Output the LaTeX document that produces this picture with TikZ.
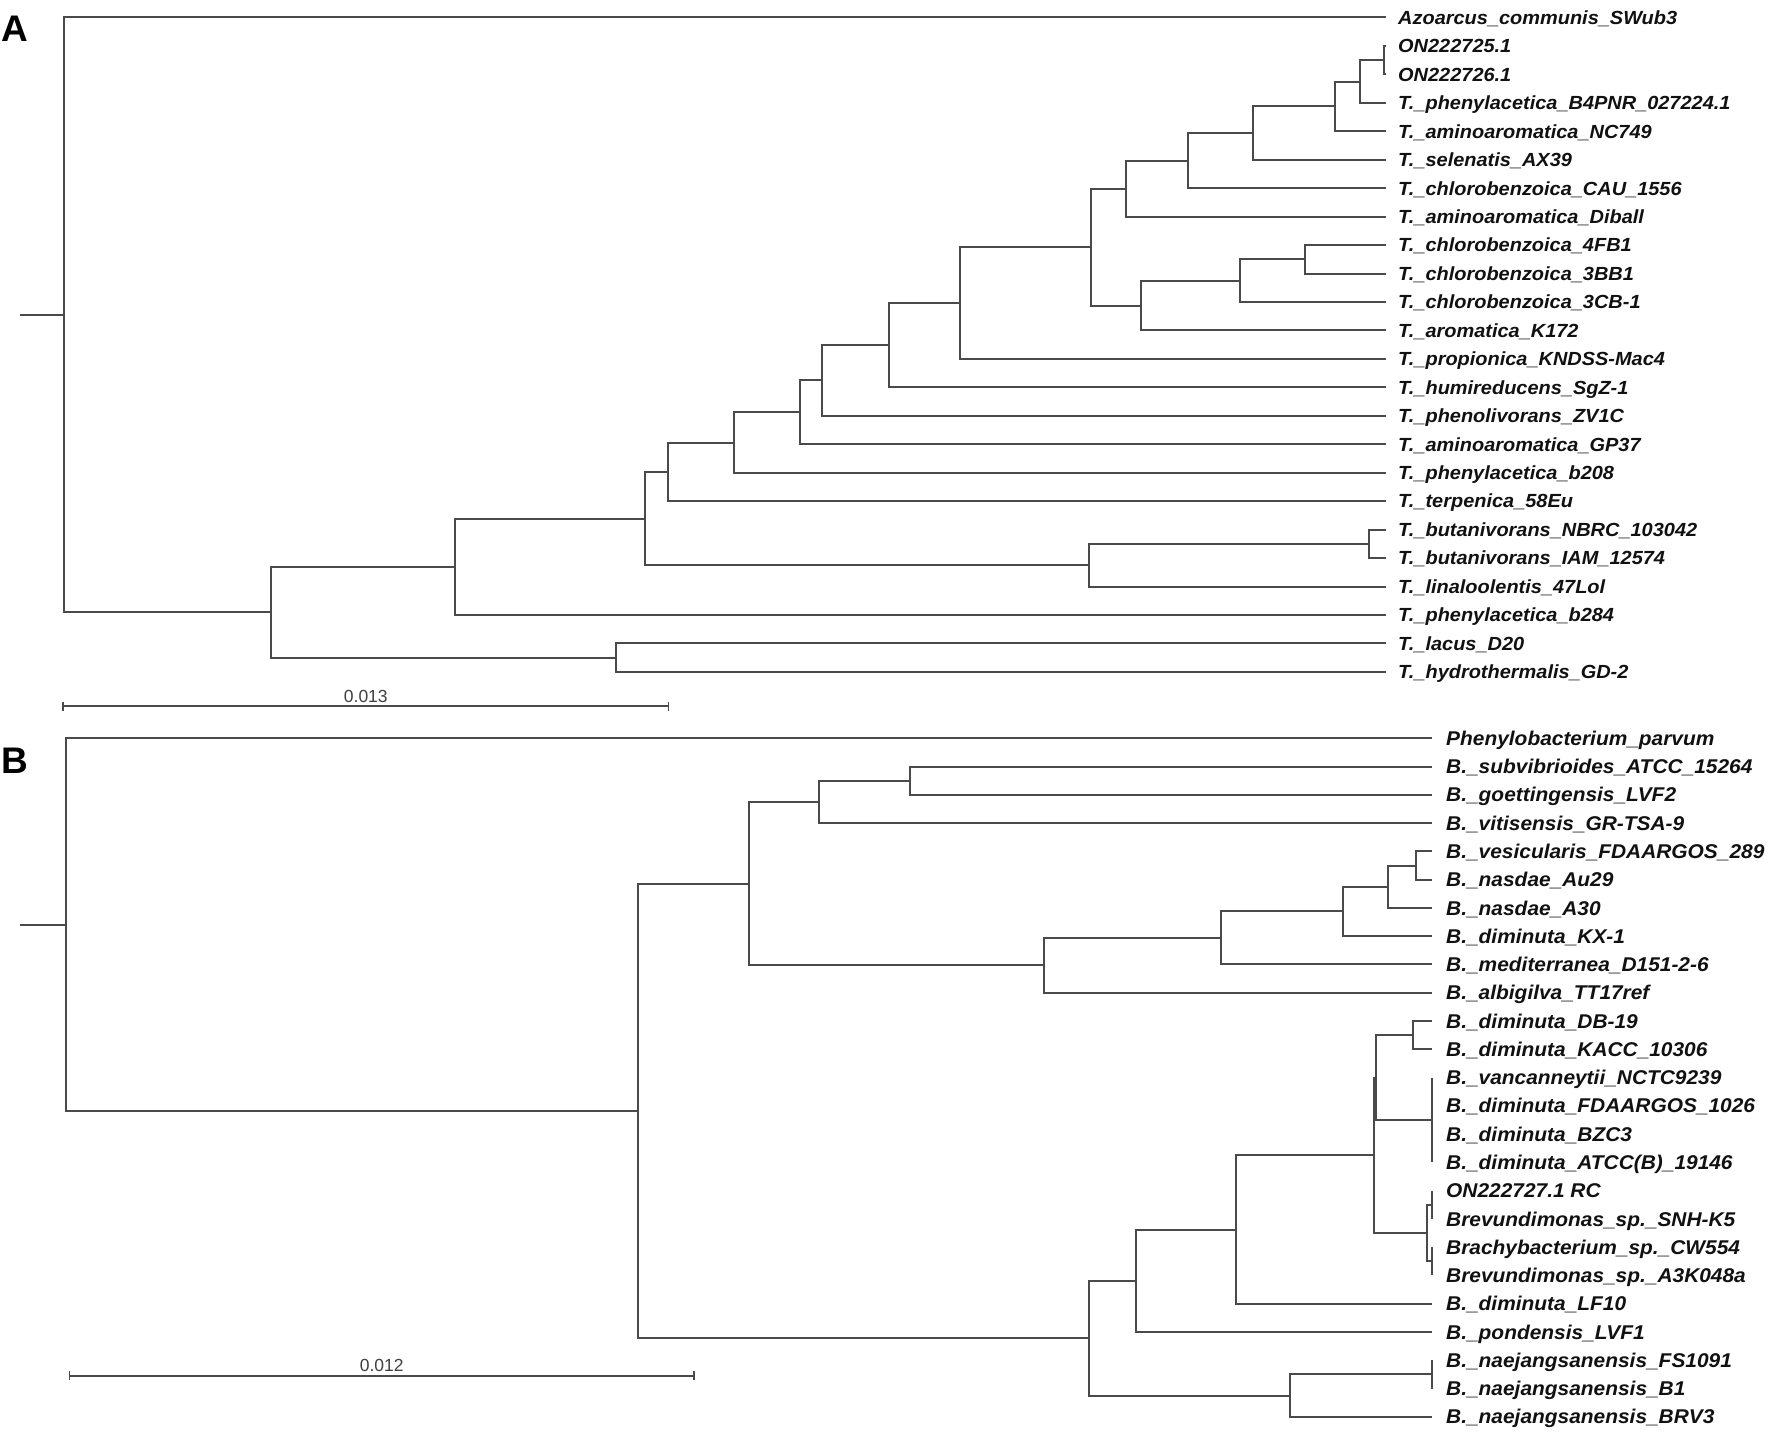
\documentclass[tikz,border=0pt]{standalone}
\usepackage{fontspec}
\setmainfont{Liberation Sans}
\newfontfamily\labfont[FakeStretch=1.05]{Liberation Sans}
\usetikzlibrary{calc}
\definecolor{lineC}{HTML}{4A4A4A}
\definecolor{txtC}{HTML}{111111}
\begin{document}
\begin{tikzpicture}[x=1pt,y=-1pt,
  br/.style={draw=lineC, line width=2pt},
  labA/.style={anchor=base west, inner sep=0pt, text=txtC, font=\labfont\bfseries\itshape\fontsize{19}{19}\selectfont},
  labB/.style={anchor=base west, inner sep=0pt, text=txtC, font=\labfont\bfseries\itshape\fontsize{19.9}{19.9}\selectfont},
  scl/.style={anchor=base, inner sep=0pt, text=black!75, font=\fontsize{17.5}{17.5}\selectfont},
  panel/.style={anchor=base west, inner sep=0pt, text=black, font=\bfseries\fontsize{37}{37}\selectfont}]
\fill[white] (0,0) rectangle (1772,1437);
\useasboundingbox (0,0) rectangle (1772,1437);
\newcommand\leafA[3]{\coordinate (#1) at (1386,#2); \node[labA] (t#1) at ([shift={(12,6.8)}]#1) {#3};}
\newcommand\leafB[3]{\coordinate (#1) at (1432,#2); \node[labB] (t#1) at ([shift={(14,7.1)}]#1) {#3};}
% ---------------- panel A ----------------
\node[panel] (pA) at (1,42) {A};
\leafA{a0}{17.5}{Azoarcus\_communis\_SWub3}
\leafA{a1}{45.95}{ON222725.1}
\leafA{a2}{74.4}{ON222726.1}
\leafA{a3}{102.85}{T.\_phenylacetica\_B4PNR\_027224.1}
\leafA{a4}{131.3}{T.\_aminoaromatica\_NC749}
\leafA{a5}{159.75}{T.\_selenatis\_AX39}
\leafA{a6}{188.2}{T.\_chlorobenzoica\_CAU\_1556}
\leafA{a7}{216.65}{T.\_aminoaromatica\_Diball}
\leafA{a8}{245.1}{T.\_chlorobenzoica\_4FB1}
\leafA{a9}{273.55}{T.\_chlorobenzoica\_3BB1}
\leafA{a10}{302.0}{T.\_chlorobenzoica\_3CB-1}
\leafA{a11}{330.45}{T.\_aromatica\_K172}
\leafA{a12}{358.9}{T.\_propionica\_KNDSS-Mac4}
\leafA{a13}{387.35}{T.\_humireducens\_SgZ-1}
\leafA{a14}{415.8}{T.\_phenolivorans\_ZV1C}
\leafA{a15}{444.25}{T.\_aminoaromatica\_GP37}
\leafA{a16}{472.7}{T.\_phenylacetica\_b208}
\leafA{a17}{501.15}{T.\_terpenica\_58Eu}
\leafA{a18}{529.6}{T.\_butanivorans\_NBRC\_103042}
\leafA{a19}{558.05}{T.\_butanivorans\_IAM\_12574}
\leafA{a20}{586.5}{T.\_linaloolentis\_47Lol}
\leafA{a21}{614.95}{T.\_phenylacetica\_b284}
\leafA{a22}{643.4}{T.\_lacus\_D20}
\leafA{a23}{671.85}{T.\_hydrothermalis\_GD-2}
\coordinate (rAs) at (20.3,314.84);
\coordinate (rA) at (64.3,314.84);
\coordinate (nA1) at (271.3,612.18);
\coordinate (nA2) at (455.4,566.73);
\coordinate (nDG) at (616,657.63);
\coordinate (nA3) at (644.7,518.5);
\coordinate (nA4) at (668.4,471.84);
\coordinate (nBut) at (1089.4,565.16);
\coordinate (nBB) at (1368.8,543.83);
\coordinate (nA5) at (734.3,442.54);
\coordinate (nA6) at (800.1,412.37);
\coordinate (nA7) at (821.5,380.49);
\coordinate (nA8) at (888.5,345.18);
\coordinate (nA9) at (960,303.0);
\coordinate (nA10) at (1091.3,247.1);
\coordinate (nA11) at (1125.7,188.65);
\coordinate (nA13) at (1188.3,160.64);
\coordinate (nA14) at (1252.5,133.08);
\coordinate (nA15) at (1334.8,106.41);
\coordinate (nA16) at (1360,81.51);
\coordinate (nON) at (1384.3,60.175);
\coordinate (nA12) at (1141,305.56);
\coordinate (nA17) at (1240.4,280.66);
\coordinate (nA18) at (1304.6,259.33);
\draw[br] (rAs) -- (rA);
\foreach \p/\c in {rA/a0, rA/nA1, nA1/nA2, nA1/nDG, nDG/a22, nDG/a23,
  nA2/nA3, nA2/a21, nA3/nA4, nA3/nBut, nBut/nBB, nBut/a20, nBB/a18, nBB/a19,
  nA4/nA5, nA4/a17, nA5/nA6, nA5/a16, nA6/nA7, nA6/a15, nA7/nA8, nA7/a14,
  nA8/nA9, nA8/a13, nA9/nA10, nA9/a12, nA10/nA11, nA10/nA12,
  nA11/nA13, nA11/a7, nA13/nA14, nA13/a6, nA14/nA15, nA14/a5,
  nA15/nA16, nA15/a4, nA16/nON, nA16/a3, nON/a1, nON/a2,
  nA12/nA17, nA12/a11, nA17/nA18, nA17/a10, nA18/a8, nA18/a9}
  \draw[br] (\p) |- (\c);
% scale bar A
\coordinate (sA1) at (63.1,706);
\coordinate (sA2) at (668.4,706);
\draw[br] (sA1) -- (sA2);
\draw[br, line width=1.6pt] ([shift={(0,-4.5)}]sA1) -- ([shift={(0,4.5)}]sA1);
\draw[br, line width=1.6pt] ([shift={(0,-4.5)}]sA2) -- ([shift={(0,4.5)}]sA2);
\node[scl] (tsA) at (365.8,702) {0.013};
% ---------------- panel B ----------------
\node[panel] (pB) at (1.5,773.3) {B};
\leafB{b0}{738.3}{Phenylobacterium\_parvum}
\leafB{b1}{766.57}{B.\_subvibrioides\_ATCC\_15264}
\leafB{b2}{794.84}{B.\_goettingensis\_LVF2}
\leafB{b3}{823.11}{B.\_vitisensis\_GR-TSA-9}
\leafB{b4}{851.38}{B.\_vesicularis\_FDAARGOS\_289}
\leafB{b5}{879.65}{B.\_nasdae\_Au29}
\leafB{b6}{907.92}{B.\_nasdae\_A30}
\leafB{b7}{936.19}{B.\_diminuta\_KX-1}
\leafB{b8}{964.46}{B.\_mediterranea\_D151-2-6}
\leafB{b9}{992.73}{B.\_albigilva\_TT17ref}
\leafB{b10}{1021.0}{B.\_diminuta\_DB-19}
\leafB{b11}{1049.27}{B.\_diminuta\_KACC\_10306}
\leafB{b12}{1077.54}{B.\_vancanneytii\_NCTC9239}
\leafB{b13}{1105.81}{B.\_diminuta\_FDAARGOS\_1026}
\leafB{b14}{1134.08}{B.\_diminuta\_BZC3}
\leafB{b15}{1162.35}{B.\_diminuta\_ATCC(B)\_19146}
\leafB{b16}{1190.62}{ON222727.1 RC}
\leafB{b17}{1218.89}{Brevundimonas\_sp.\_SNH-K5}
\leafB{b18}{1247.16}{Brachybacterium\_sp.\_CW554}
\leafB{b19}{1275.43}{Brevundimonas\_sp.\_A3K048a}
\leafB{b20}{1303.7}{B.\_diminuta\_LF10}
\leafB{b21}{1331.97}{B.\_pondensis\_LVF1}
\leafB{b22}{1360.24}{B.\_naejangsanensis\_FS1091}
\leafB{b23}{1388.51}{B.\_naejangsanensis\_B1}
\leafB{b24}{1416.78}{B.\_naejangsanensis\_BRV3}
\coordinate (rBs) at (20.3,924.6);
\coordinate (rB) at (65.8,924.6);
\coordinate (nB1) at (637.8,1110.9);
\coordinate (nB2) at (748.8,883.63);
\coordinate (nB3) at (818.5,801.91);
\coordinate (nB4) at (909.5,780.71);
\coordinate (nB5) at (1044.2,965.35);
\coordinate (nB6) at (1220.8,937.96);
\coordinate (nB7) at (1343.1,911.46);
\coordinate (nB8) at (1387.7,886.72);
\coordinate (nB9) at (1416,865.52);
\coordinate (nB10) at (1088.6,1338.16);
\coordinate (nB13) at (1136.4,1280.73);
\coordinate (nB14) at (1235.9,1229.5);
\coordinate (nP) at (1374,1155.29);
\coordinate (nQ) at (1375.7,1077.55);
\coordinate (nDK) at (1412.5,1035.14);
\coordinate (nVan) at (1432,1119.95);
\coordinate (nONB) at (1427.3,1233.03);
\coordinate (nC1) at (1432,1204.76);
\coordinate (nC2) at (1432,1261.3);
\coordinate (nB11) at (1289.5,1395.58);
\coordinate (nB12) at (1432,1374.38);
\draw[br] (rBs) -- (rB);
\foreach \p/\c in {rB/b0, rB/nB1, nB1/nB2, nB1/nB10, nB2/nB3, nB2/nB5,
  nB3/nB4, nB3/b3, nB4/b1, nB4/b2, nB5/nB6, nB5/b9, nB6/nB7, nB6/b8,
  nB7/nB8, nB7/b7, nB8/nB9, nB8/b6, nB9/b4, nB9/b5,
  nB10/nB13, nB10/nB11, nB13/nB14, nB13/b21, nB14/nP, nB14/b20,
  nP/nQ, nP/nONB, nQ/nDK, nQ/nVan, nDK/b10, nDK/b11,
  nVan/b12, nVan/b13, nVan/b14, nVan/b15,
  nONB/nC1, nONB/nC2, nC1/b16, nC1/b17, nC2/b18, nC2/b19,
  nB11/nB12, nB11/b24, nB12/b22, nB12/b23}
  \draw[br] (\p) |- (\c);
% scale bar B
\coordinate (sB1) at (69.3,1375.7);
\coordinate (sB2) at (694,1375.7);
\draw[br] (sB1) -- (sB2);
\draw[br, line width=1.6pt] ([shift={(0,-4.5)}]sB1) -- ([shift={(0,4.5)}]sB1);
\draw[br, line width=1.6pt] ([shift={(0,-4.5)}]sB2) -- ([shift={(0,4.5)}]sB2);
\node[scl] (tsB) at (381.7,1371.7) {0.012};
\end{tikzpicture}
\end{document}
